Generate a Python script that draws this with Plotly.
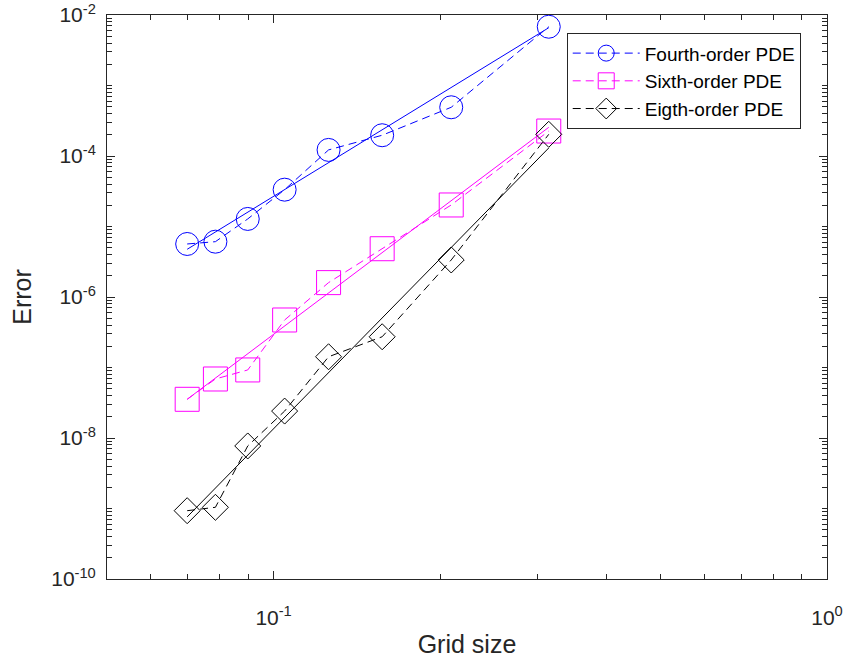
import plotly.graph_objects as go

# ---- data ----
grid_size = [0.0698, 0.0785, 0.0898, 0.1047, 0.1257, 0.1571, 0.2094, 0.3142]
err_fourth = [5.65e-6, 6.09e-6, 1.28e-5, 3.33e-5, 1.22e-4, 1.97e-4, 4.91e-4, 6.82e-3]
err_sixth = [3.54e-8, 6.87e-8, 9.23e-8, 4.72e-7, 1.60e-6, 4.84e-6, 2.02e-5, 2.26e-4]
err_eighth = [9.31e-10, 1.04e-9, 7.71e-9, 2.41e-8, 1.42e-7, 2.73e-7, 3.35e-6, 2.03e-4]

fit_x = [0.0698, 0.3142]
fit_fourth = [4.75e-6, 6.6e-3]
fit_sixth = [3.54e-8, 2.55e-4]
fit_eighth = [7.6e-10, 1.3e-4]

series_names = ["Fourth-order PDE", "Sixth-order PDE", "Eigth-order PDE"]
series_colors = ["#0000FF", "#FF00FF", "#000000"]
series_symbols = ["circle-open", "square-open", "diamond-open"]
series_sizes = [23, 24, 20]

xtick_vals = [0.1, 1]
xtick_text = ["10<sup>-1</sup>", "10<sup>0</sup>"]
ytick_vals = [1e-10, 1e-8, 1e-6, 1e-4, 1e-2]
ytick_text = ["10<sup>-10</sup>", "10<sup>-8</sup>", "10<sup>-6</sup>", "10<sup>-4</sup>", "10<sup>-2</sup>"]

x_minor = [m * 10.0 ** e for e in (-2, -1) for m in range(1, 10) if 0.05 <= m * 10.0 ** e <= 1]
y_minor = [m * 10.0 ** e for e in range(-10, -2) for m in range(1, 10)]

FONT = "Liberation Sans, Arial, Helvetica, sans-serif"
AX = "#262626"

fig = go.Figure()
data_sets = [err_fourth, err_sixth, err_eighth]
fit_sets = [fit_fourth, fit_sixth, fit_eighth]
for i in range(3):
    fig.add_trace(go.Scatter(
        x=fit_x, y=fit_sets[i], mode="lines",
        line=dict(color=series_colors[i], width=1), showlegend=False, hoverinfo="skip"))
for i in range(3):
    fig.add_trace(go.Scatter(
        x=grid_size, y=data_sets[i], mode="lines+markers", name=series_names[i],
        line=dict(color=series_colors[i], width=1, dash="8px,5px"),
        marker=dict(symbol=series_symbols[i], size=series_sizes[i], color=series_colors[i],
                    line=dict(width=1, color=series_colors[i]))))

axis_common = dict(
    showgrid=False, zeroline=False, showline=True, linecolor=AX, linewidth=1,
    mirror="allticks", ticks="inside", tickcolor=AX, ticklen=8, tickwidth=1,
    tickfont=dict(family=FONT, size=21, color=AX), ticklabeloverflow="allow",
)

fig.update_xaxes(
    type="log", range=[-1.30103, 0], tickmode="array", tickvals=xtick_vals, ticktext=xtick_text,
    ticklabelstandoff=20,
    minor=dict(tickmode="array", tickvals=x_minor, ticks="inside", ticklen=5, tickcolor=AX, tickwidth=1),
    title=dict(text="Grid size", font=dict(family=FONT, size=25, color=AX), standoff=7),
    **axis_common)
fig.update_yaxes(
    type="log", range=[-10, -2], tickmode="array", tickvals=ytick_vals, ticktext=ytick_text,
    ticklabelstandoff=6,
    minor=dict(tickmode="array", tickvals=y_minor, ticks="inside", ticklen=5, tickcolor=AX, tickwidth=1),
    title=dict(text="Error", font=dict(family=FONT, size=25, color=AX), standoff=12),
    **axis_common)

fig.update_layout(
    width=847, height=664,
    margin=dict(l=107, r=20, t=15, b=85, autoexpand=False),
    paper_bgcolor="white", plot_bgcolor="white",
    font=dict(family=FONT, color=AX),
    legend=dict(
        x=0.6385, y=0.9676, xanchor="left", yanchor="top",
        bgcolor="white", bordercolor=AX, borderwidth=1,
        font=dict(family=FONT, size=19, color="#000000"),
        itemwidth=67, tracegroupgap=0,
    ),
)

fig.write_html("out.html", config={"displayModeBar": False},
               post_script="document.body.style.margin='0';")
